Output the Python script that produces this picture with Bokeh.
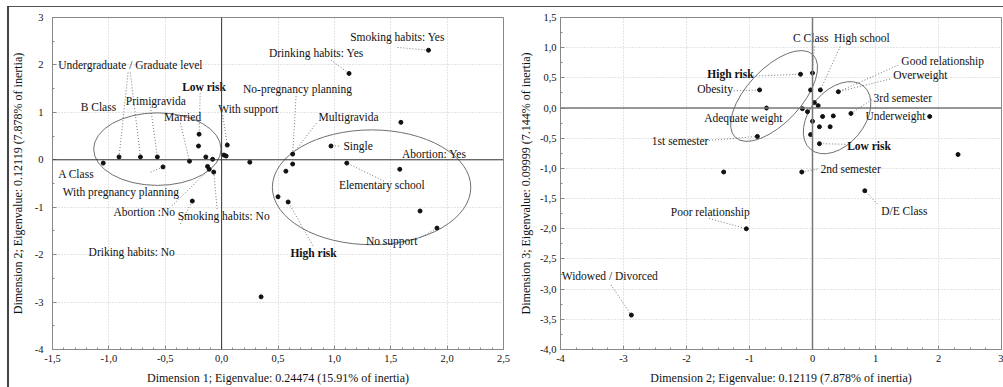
from bokeh.plotting import figure
from bokeh.layouts import row
from bokeh.models import (ColumnDataSource, Span, SingleIntervalTicker,
                          CustomJSTickFormatter, Range1d)
from bokeh.core.properties import value
from bokeh.embed import file_html
from bokeh.resources import INLINE

FONT = "Liberation Serif"

# ---------------- Left panel data (Dimension 1 vs Dimension 2) ----------------
left_x = [1.835, 1.13, 1.59, 0.97, 1.58, 1.11, 0.25, 0.63, 0.63, 0.57, 0.50, 0.59,
          1.76, 1.91, 0.35, -1.05, -0.91, -0.72, -0.57, -0.52, -0.285, -0.20,
          -0.205, -0.14, -0.08, -0.125, -0.11, 0.05, 0.02, 0.04, -0.26, -0.07]
left_y = [2.31, 1.82, 0.79, 0.29, -0.20, -0.07, -0.05, 0.12, -0.09, -0.24, -0.78,
          -0.89, -1.08, -1.44, -2.89, -0.07, 0.06, 0.06, 0.06, -0.15, -0.03, 0.54,
          0.29, 0.06, 0.01, -0.14, -0.20, 0.31, 0.10, 0.08, -0.87, -0.26]

left_labels = ["Smoking habits: Yes", "Drinking habits: Yes", "Undergraduate / Graduate level",
               "No-pregnancy planning", "B Class", "Primigravida", "With support",
               "Married", "Multigravida", "Single", "Abortion: Yes", "A Class",
               "Elementary school", "With pregnancy planning", "Abortion :No",
               "Smoking habits: No", "Driking habits: No", "No support"]
left_label_x = [1.14, 0.42, -1.45, 0.19, -1.25, -0.85, -0.03, -0.51, 0.86, 1.08, 1.60,
                -1.45, 1.04, -1.41, -0.96, -0.39, -1.18, 1.28]
left_label_y = [2.58, 2.26, 1.99, 1.49, 1.11, 1.23, 1.07, 0.90, 0.90, 0.29, 0.12,
                -0.30, -0.53, -0.68, -1.10, -1.18, -1.94, -1.71]
left_bold = ["Low risk", "High risk"]
left_bold_x = [-0.35, 0.61]
left_bold_y = [1.53, -1.96]

# leader lines: label anchor -> point index
left_lead_x = [1.56, 0.97, -0.83, -0.81, -0.63, -0.365, -0.19, 0.01, 0.66, 0.84, 1.04,
               1.44, -0.63, -0.44, -0.04, -0.365, 0.81, 1.76]
left_lead_y = [2.37, 2.10, 1.84, 1.84, 1.11, 0.77, 1.40, 0.94, 1.34, 0.77, 0.29,
               -0.45, -0.26, -0.97, -1.04, -1.35, -1.81, -1.65]
left_lead_pt = [0, 1, 16, 17, 18, 20, 21, 27, 7, 7, 3, 5, 19, 26, 31, 30, 11, 13]

left_ell_x = [-0.57, 1.33]
left_ell_y = [0.225, -0.58]
left_ell_w = [1.13, 1.76]
left_ell_h = [1.53, 2.42]
left_ell_a = [0.0, 0.0]

# ---------------- Right panel data (Dimension 2 vs Dimension 3) ----------------
right_x = [-0.19, 0.0, -0.84, -0.03, 0.125, 0.41, -0.73, -0.16, 0.03, 0.09, -0.08,
           0.16, 0.33, 0.61, 0.0, 0.11, 0.28, -0.03, -0.875, 0.11, -0.17, 0.83, 2.31,
           1.86, -1.41, -1.05, -2.875]
right_y = [0.56, 0.58, 0.30, 0.30, 0.30, 0.27, 0.0, -0.01, 0.09, 0.04, -0.06, -0.14,
           -0.13, -0.09, -0.22, -0.31, -0.31, -0.44, -0.47, -0.59, -1.06, -1.37, -0.77,
           -0.14, -1.06, -2.0, -3.43]

right_labels = ["C Class", "High school", "Obesity", "Adequate weight", "1st semester",
                "Good relationship", "Overweight", "3rd semester", "Underweight",
                "2nd semester", "D/E Class", "Poor relationship", "Widowed / Divorced"]
right_label_x = [-0.31, 0.34, -1.83, -1.72, -2.55, 1.41, 1.28, 0.97, 0.84, 0.125,
                 1.09, -2.25, -3.98]
right_label_y = [1.155, 1.155, 0.32, -0.16, -0.54, 0.78, 0.55, 0.17, -0.14, -1.01,
                 -1.70, -1.72, -2.79]
right_bold = ["High risk", "Low risk"]
right_bold_x = [-1.67, 0.55]
right_bold_y = [0.56, -0.635]

right_lead_x = [0.03, 0.44, -0.94, -1.25, 1.36, 1.23, 0.94, 0.52, 0.08, -1.69, 1.03,
                -1.64, -3.20]
right_lead_y = [1.02, 1.02, 0.53, 0.285, 0.71, 0.48, 0.14, -0.60, -1.01, -0.54, -1.59,
                -1.83, -2.93]
right_lead_pt = [1, 4, 0, 2, 5, 5, 13, 19, 20, 18, 21, 25, 26]

right_ell_x = [-0.61, 0.39]
right_ell_y = [0.20, -0.16]
right_ell_w = [1.8, 1.31]
right_ell_h = [0.9, 0.90]
right_ell_a = [0.82, 0.87]


def comma_fmt(decimals):
    return CustomJSTickFormatter(code="return tick.toFixed(%d).replace('.', ',');" % decimals)


def style(p, xlabel, ylabel, xint, xminor, yint, yminor, xdec, ydec):
    p.xaxis.ticker = SingleIntervalTicker(interval=xint, num_minor_ticks=xminor)
    p.yaxis.ticker = SingleIntervalTicker(interval=yint, num_minor_ticks=yminor)
    p.xaxis.formatter = comma_fmt(xdec)
    p.yaxis.formatter = comma_fmt(ydec)
    p.xaxis.axis_label = xlabel
    p.yaxis.axis_label = ylabel
    for ax in (p.xaxis[0], p.yaxis[0]):
        ax.axis_label_text_font = FONT
        ax.axis_label_text_font_size = "12px"
        ax.axis_label_text_font_style = "normal"
        ax.axis_label_text_color = "#111111"
        ax.major_label_text_font = FONT
        ax.major_label_text_font_size = "10.5px"
        ax.major_label_text_color = "#111111"
        ax.axis_line_color = "#888888"
        ax.major_tick_line_color = "#888888"
        ax.minor_tick_line_color = "#888888"
        ax.major_tick_in = 4
        ax.major_tick_out = 0
        ax.minor_tick_in = 2
        ax.minor_tick_out = 0
        ax.major_label_standoff = 5
    p.xaxis.axis_label_standoff = 6
    p.grid.grid_line_color = "#c8c8c8"
    p.grid.grid_line_dash = "1 2"
    p.grid.grid_line_width = 1
    p.outline_line_color = "#888888"
    p.background_fill_color = "white"
    p.border_fill_alpha = 0


def draw(p, xs, ys, lx, ly, lt, bx, by, bt, ax_, ay_, apt, ex, ey, ew, eh, ea, zero_color, zero_w):
    p.add_layout(Span(location=0, dimension="width", line_color=zero_color, line_width=zero_w))
    p.add_layout(Span(location=0, dimension="height", line_color=zero_color, line_width=zero_w))
    p.ellipse(x=ex, y=ey, width=ew, height=eh, angle=ea, fill_color=None,
              line_color="#707070", line_width=1)
    seg = ColumnDataSource(dict(x0=ax_, y0=ay_, x1=[xs[i] for i in apt], y1=[ys[i] for i in apt]))
    p.segment(x0="x0", y0="y0", x1="x1", y1="y1", source=seg, line_color="#555555",
              line_width=0.8, line_dash="1 2")
    p.scatter(x=xs, y=ys, size=4, color="#111111")
    p.text(x=lx, y=ly, text=lt, text_font=value(FONT), text_font_size="11.5px",
           text_baseline="middle", text_align="left", text_color="#111111")
    p.text(x=bx, y=by, text=bt, text_font=value(FONT), text_font_size="11.5px",
           text_font_style="bold", text_baseline="middle", text_align="left",
           text_color="#111111")


p1 = figure(width=515, height=387, output_backend="svg", toolbar_location=None,
            x_range=Range1d(-1.5, 2.5), y_range=Range1d(-4, 3),
            min_border_left=52, min_border_right=12, min_border_top=17, min_border_bottom=37)
style(p1, "Dimension 1; Eigenvalue: 0.24474 (15.91% of inertia)",
      "Dimension 2; Eigenvalue: 0.12119 (7.878% of inertia)", 0.5, 5, 1, 2, 1, 0)
p1.yaxis.axis_label_standoff = 7
p1.yaxis.major_label_standoff = 9
draw(p1, left_x, left_y, left_label_x, left_label_y, left_labels, left_bold_x, left_bold_y,
     left_bold, left_lead_x, left_lead_y, left_lead_pt, left_ell_x, left_ell_y, left_ell_w,
     left_ell_h, left_ell_a, "#333333", 1)
# outer panel frame (left and top edges) painted behind the transparent border area
p1.styles = {
    "background-color": "white",
    "background-image": "linear-gradient(#444444, #444444), linear-gradient(#555555, #555555)",
    "background-size": "2px 381px, 508px 1px",
    "background-position": "7px 6px, 7px 6px",
    "background-repeat": "no-repeat",
}

p2 = figure(width=488, height=387, output_backend="svg", toolbar_location=None,
            x_range=Range1d(-4, 3), y_range=Range1d(-4, 1.5),
            min_border_left=39, min_border_right=2, min_border_top=17, min_border_bottom=35)
style(p2, "Dimension 2; Eigenvalue: 0.12119 (7.878% of inertia)",
      "Dimension 3; Eigenvalue: 0.09999 (7.144% of inertia)", 1, 4, 0.5, 2, 0, 1)
p2.yaxis.axis_label_standoff = 4
p2.yaxis.major_label_standoff = 4
draw(p2, right_x, right_y, right_label_x, right_label_y, right_labels, right_bold_x,
     right_bold_y, right_bold, right_lead_x, right_lead_y, right_lead_pt, right_ell_x,
     right_ell_y, right_ell_w, right_ell_h, right_ell_a, "#777777", 1.5)
p2.styles = {
    "background-color": "white",
    "background-image": "linear-gradient(#555555, #555555)",
    "background-size": "488px 1px",
    "background-position": "0px 6px",
    "background-repeat": "no-repeat",
}

layout = row(p1, p2)
open("out.html", "w").write(file_html(layout, INLINE))
